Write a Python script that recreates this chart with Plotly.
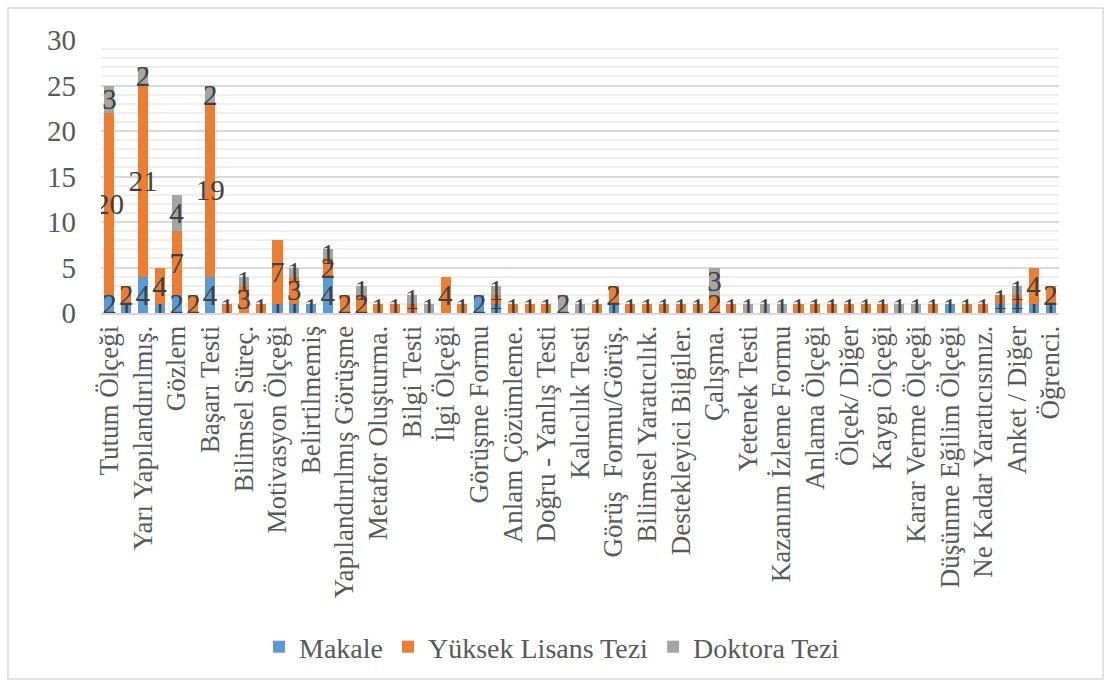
import plotly.graph_objects as go

# ---- data ----
categories = [
    "Tutum Ölçeği", "(2)", "Yarı Yapılandırılmış.", "(4)", "Gözlem", "(6)",
    "Başarı Testi", "(8)", "Bilimsel Süreç.", "(10)", "Motivasyon Ölçeği", "(12)",
    "Belirtilmemiş", "(14)", "Yapılandırılmış Görüşme", "(16)", "Metafor Oluşturma.", "(18)",
    "Bilgi Testi", "(20)", "İlgi Ölçeği", "(22)", "Görüşme Formu", "(24)",
    "Anlam Çözümleme.", "(26)", "Doğru - Yanlış Testi", "(28)", "Kalıcılık Testi", "(30)",
    "Görüş  Formu/Görüş.", "(32)", "Bilimsel Yaratıcılık.", "(34)", "Destekleyici Bilgiler.", "(36)",
    "Çalışma.", "(38)", "Yetenek Testi", "(40)", "Kazanım İzleme Formu", "(42)",
    "Anlama Ölçeği", "(44)", "Ölçek/ Diğer", "(46)", "Kaygı Ölçeği", "(48)",
    "Karar Verme Ölçeği", "(50)", "Düşünme Eğilim Ölçeği", "(52)", "Ne Kadar Yaratıcısınız.", "(54)",
    "Anket / Diğer", "(56)", "Öğrenci.",
]
makale = [2, 1, 4, 1, 2, 0, 4, 0, 0, 0, 1, 1, 1, 4, 0, 0, 0, 0, 0, 0,
          0, 0, 2, 1, 0, 0, 0, 0, 0, 0, 1, 0, 0, 0, 0, 0, 0, 0, 0, 0,
          0, 0, 0, 0, 0, 0, 0, 0, 0, 0, 1, 0, 0, 1, 1, 1, 1]
yuksek_lisans = [20, 2, 21, 4, 7, 2, 19, 1, 3, 1, 7, 3, 0, 2, 2, 2, 1, 1, 1, 0,
                 4, 1, 0, 1, 1, 1, 1, 0, 0, 1, 2, 1, 1, 1, 1, 1, 2, 1, 0, 0,
                 0, 1, 1, 1, 1, 1, 1, 0, 0, 1, 0, 1, 1, 1, 1, 4, 2]
doktora = [3, 0, 2, 0, 4, 0, 2, 0, 1, 0, 0, 1, 0, 1, 0, 1, 0, 0, 1, 1,
           0, 0, 0, 1, 0, 0, 0, 2, 1, 0, 0, 0, 0, 0, 0, 0, 3, 0, 1, 1,
           1, 0, 0, 0, 0, 0, 0, 1, 1, 0, 0, 0, 0, 0, 1, 0, 0]
series_names = ["Makale", "Yüksek Lisans Tezi", "Doktora Tezi"]
y_ticks = [0, 5, 10, 15, 20, 25, 30]

# ---- style ----
colors = ["#5B9BD5", "#ED7D31", "#A5A5A5"]
FONT = "Liberation Serif, Times New Roman, serif"
W, H = 1111, 687
ML, MR, MT, MB = 101, 52, 40, 374
FS = 29

x = list(range(len(categories)))
fig = go.Figure()
for name, vals, col in zip(series_names, [makale, yuksek_lisans, doktora], colors):
    fig.add_trace(go.Bar(
        x=x, y=vals, name=name, marker_color=col,
        marker_line_width=0,
        text=[str(v) if v else "" for v in vals],
        textposition="inside", insidetextanchor="middle", textangle=0,
        insidetextfont=dict(family=FONT, size=FS, color="#404040"),
    ))

pw = W - ML - MR
ph = H - MT - MB
show_idx = x[::2]
fig.update_layout(
    barmode="stack", bargap=0.4,
    width=W, height=H,
    margin=dict(l=ML, r=MR, t=MT, b=MB, autoexpand=False),
    paper_bgcolor="white", plot_bgcolor="white",
    font=dict(family=FONT, color="#595959", size=FS),
    uniformtext=dict(minsize=FS, mode="show"),
    showlegend=True,
    legend=dict(orientation="h", x=(552 - ML) / pw, xanchor="center",
                y=-(647 - MT - ph) / ph, yanchor="middle",
                font=dict(family=FONT, size=28, color="#595959"),
                traceorder="normal", itemwidth=30),
    xaxis=dict(
        tickmode="array", tickvals=show_idx, ticktext=[categories[i] for i in show_idx],
        tickangle=-90, tickfont=dict(family=FONT, size=27, color="#595959"),
        range=[-0.5, len(categories) - 0.5], automargin=False,
        showline=True, linecolor="#D9D9D9", linewidth=2, ticks="", showgrid=False,
    ),
    yaxis=dict(
        range=[0, 30], tickvals=y_ticks, automargin=False,
        tickfont=dict(family=FONT, size=29, color="#595959"),
        ticklabelstandoff=24,
        showgrid=True, gridcolor="#D9D9D9", gridwidth=2,
        minor=dict(dtick=1, showgrid=True, gridcolor="#EFEFEF", gridwidth=1.5),
        zeroline=False, ticks="", ticklen=0,
    ),
)

# outer chart border
fig.add_shape(type="rect", xref="paper", yref="paper",
              x0=(8 - ML) / pw, x1=(W - 8 - ML) / pw,
              y0=-(H - 8 - MT - ph) / ph, y1=1 + (MT - 8) / ph,
              line=dict(color="#D9D9D9", width=1.5), layer="below")

fig.write_html("out.html", config={"displayModeBar": False},
               post_script="document.body.style.margin='0';")
